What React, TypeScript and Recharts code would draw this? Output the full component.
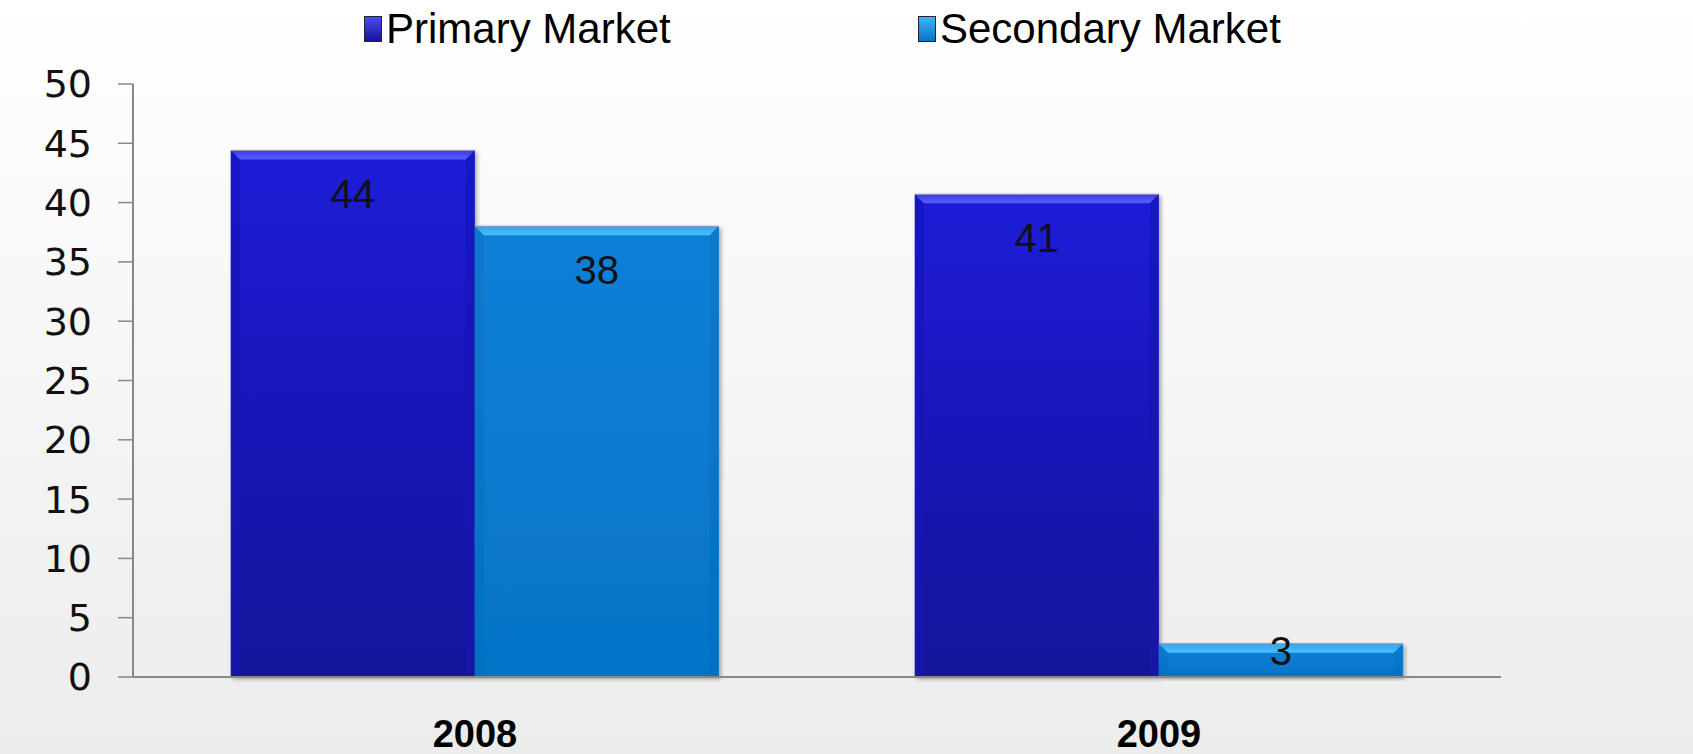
import React from "react";
import { BarChart, Bar, XAxis, YAxis, Legend, LabelList } from "recharts";

// values (labels shown rounded)
const years = ["2008", "2009"];
const primaryMarket = [44.4, 40.7];
const secondaryMarket = [38.0, 2.8];
const yTicks = [0, 5, 10, 15, 20, 25, 30, 35, 40, 45, 50];

const data = years.map((year, i) => ({
    year,
    primary: primaryMarket[i],
    secondary: secondaryMarket[i],
}));

const W = 1693;
const H = 754;
const LEGEND_H = 60;

const palette: Record<string, { top: string; bottom: string; bevel: string; side: string }> = {
    primary: { top: "#1c1cd8", bottom: "#16139a", bevel: "#4a4cf2", side: "#1414b4" },
    secondary: { top: "#0a80d8", bottom: "#0674c6", bevel: "#3cb4f6", side: "#066fbf" },
};

const BevelBar = (props: any) => {
    const { x, y, width, height, series } = props;
    if (!height || height <= 0) return null;
    const c = palette[series];
    const b = Math.min(9, height / 2);
    return (
        <g filter="url(#barShadow)">
            <rect x={x} y={y} width={width} height={height} fill={`url(#grad-${series})`} />
            <polygon
                points={`${x},${y} ${x + width},${y} ${x + width - b},${y + b} ${x + b},${y + b}`}
                fill={`url(#bevel-${series})`}
            />
            <polygon
                points={`${x},${y} ${x + b},${y + b} ${x + b},${y + height} ${x},${y + height}`}
                fill={c.side}
                opacity={0.5}
            />
            <polygon
                points={`${x + width},${y} ${x + width - b},${y + b} ${x + width - b},${y + height} ${x + width},${y + height}`}
                fill={c.side}
                opacity={0.5}
            />
            <line x1={x} y1={y} x2={x + width} y2={y} stroke="#9a9ab0" strokeWidth={1} />
        </g>
    );
};

const ValueLabel = (props: any) => {
    const { x, y, width, height, value } = props;
    const cy = Math.min(y + 44, y + height - 26);
    return (
        <text
            x={x + width / 2}
            y={cy}
            textAnchor="middle"
            dominantBaseline="central"
            fontFamily="Liberation Sans, Arial, sans-serif"
            fontSize={40}
            fill="#111"
        >
            {Math.round(value)}
        </text>
    );
};

const YearTick = (props: any) => {
    const { x, y, payload } = props;
    return (
        <text
            x={x}
            y={y + 62}
            textAnchor="middle"
            fontFamily="Liberation Sans, Arial, sans-serif"
            fontWeight="bold"
            fontSize={38}
            fill="#000"
        >
            {payload.value}
        </text>
    );
};

const LegendBox = () => {
    const items = [
        { name: "Primary Market", key: "primary", left: 364 },
        { name: "Secondary Market", key: "secondary", left: 918 },
    ];
    return (
        <div style={{ position: "relative", width: W, height: LEGEND_H }}>
            {items.map((it) => (
                <div
                    key={it.key}
                    style={{
                        position: "absolute",
                        left: it.left,
                        top: 5,
                        display: "flex",
                        alignItems: "center",
                        fontFamily: "Liberation Sans, Arial, sans-serif",
                        fontSize: 42,
                        color: "#000",
                    }}
                >
                    <span
                        style={{
                            display: "inline-block",
                            width: 16,
                            height: 24,
                            marginRight: 4,
                            background: `linear-gradient(${palette[it.key].bevel}, ${palette[it.key].bottom})`,
                            border: "1px solid #223",
                        }}
                    />
                    {it.name}
                </div>
            ))}
        </div>
    );
};

export default function App() {
    return (
        <div
            style={{
                position: "absolute",
                left: 0,
                top: 0,
                width: W,
                height: H,
                background: "linear-gradient(#ffffff, #ececec)",
                overflow: "hidden",
            }}
        >
            <BarChart
                width={W}
                height={H}
                data={data}
                margin={{ top: 84 - LEGEND_H, right: 192, left: 0, bottom: 0 }}
                barCategoryGap="14.3%"
                barGap={0}
            >
                <defs>
                    <linearGradient id="grad-primary" x1="0" y1="0" x2="0" y2="1">
                        <stop offset="0%" stopColor={palette.primary.top} />
                        <stop offset="100%" stopColor={palette.primary.bottom} />
                    </linearGradient>
                    <linearGradient id="grad-secondary" x1="0" y1="0" x2="0" y2="1">
                        <stop offset="0%" stopColor={palette.secondary.top} />
                        <stop offset="100%" stopColor={palette.secondary.bottom} />
                    </linearGradient>
                    <linearGradient id="bevel-primary" x1="0" y1="0" x2="0" y2="1">
                        <stop offset="0%" stopColor="#3a3cf0" />
                        <stop offset="100%" stopColor="#5a5cff" />
                    </linearGradient>
                    <linearGradient id="bevel-secondary" x1="0" y1="0" x2="0" y2="1">
                        <stop offset="0%" stopColor="#2aa6f0" />
                        <stop offset="100%" stopColor="#4cc0ff" />
                    </linearGradient>
                    <filter id="barShadow" x="-5%" y="-5%" width="115%" height="115%">
                        <feDropShadow dx={2} dy={2} stdDeviation={2} floodColor="#000" floodOpacity={0.35} />
                    </filter>
                </defs>
                <Legend
                    verticalAlign="top"
                    height={LEGEND_H}
                    content={<LegendBox />}
                    wrapperStyle={{ top: 0, left: 0, width: W }}
                />
                <XAxis
                    dataKey="year"
                    height={77}
                    axisLine={{ stroke: "#888", strokeWidth: 2 }}
                    tickLine={false}
                    tick={<YearTick />}
                    interval={0}
                />
                <YAxis
                    width={133}
                    domain={[0, 50]}
                    ticks={yTicks}
                    interval={0}
                    axisLine={{ stroke: "#888", strokeWidth: 2 }}
                    tickLine={{ stroke: "#888", strokeWidth: 1.5 }}
                    tickSize={15}
                    tickMargin={26}
                    tick={{ fill: "#111", fontSize: 38, fontFamily: "DejaVu Sans, sans-serif" }}
                />
                <Bar
                    dataKey="primary"
                    name="Primary Market"
                    isAnimationActive={false}
                    shape={(p: any) => <BevelBar {...p} series="primary" />}
                >
                    <LabelList dataKey="primary" content={<ValueLabel />} />
                </Bar>
                <Bar
                    dataKey="secondary"
                    name="Secondary Market"
                    isAnimationActive={false}
                    shape={(p: any) => <BevelBar {...p} series="secondary" />}
                >
                    <LabelList dataKey="secondary" content={<ValueLabel />} />
                </Bar>
            </BarChart>
        </div>
    );
}
